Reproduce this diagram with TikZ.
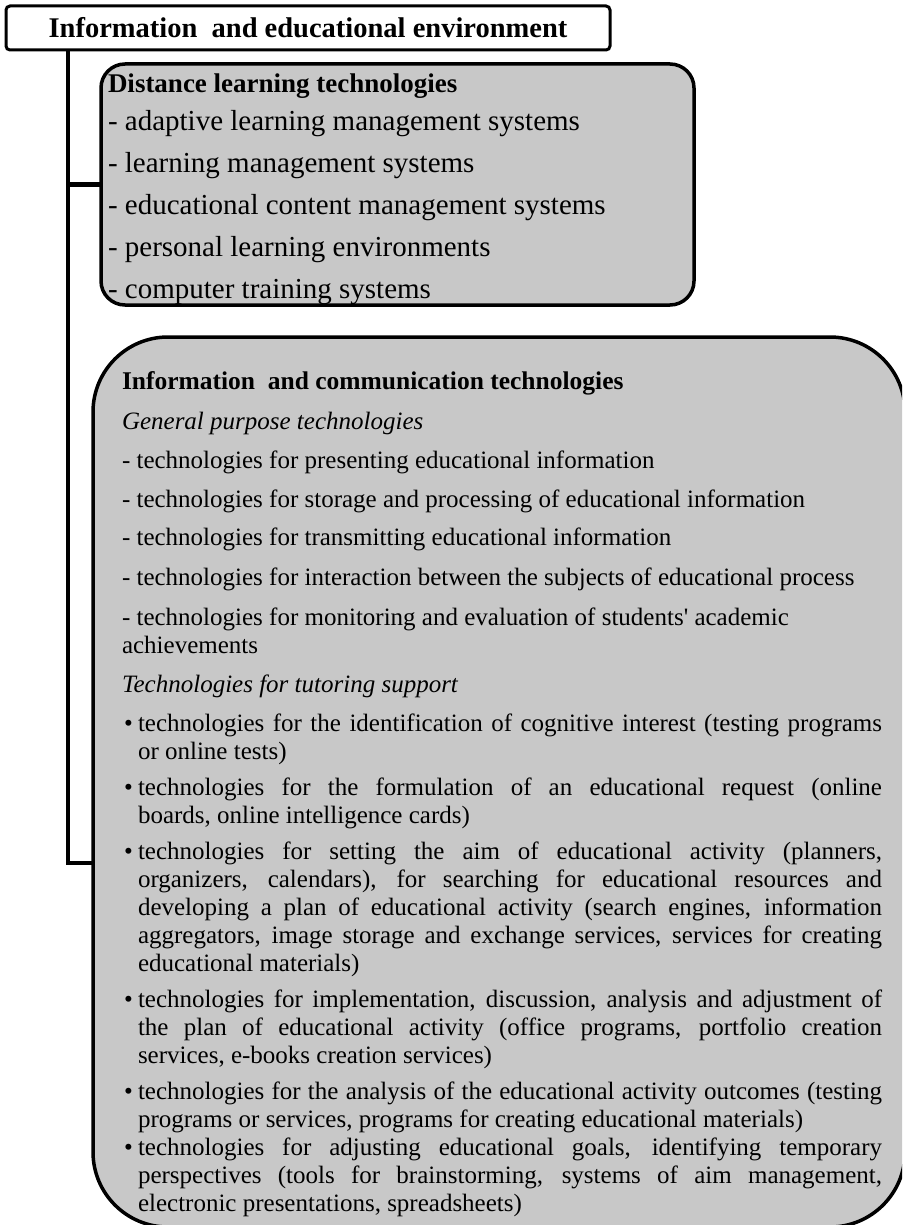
\documentclass[tikz,border=0pt]{standalone}
\usepackage{fontspec}
\setmainfont{Liberation Serif}
\usepackage{graphicx}

% set a full justified line to an exact width: shrink it if too long,
% otherwise spread the interword spaces
\newsavebox\fitbox
\newcommand\fitline[2]{\sbox\fitbox{#2}%
  \ifdim\wd\fitbox>#1\relax\resizebox{#1}{\height}{\usebox\fitbox}%
  \else\makebox[#1][s]{#2}\fi}

\definecolor{boxgray}{RGB}{200,200,200}

\begin{document}
\begin{tikzpicture}[x=1pt,y=-1pt,
  frame/.style={draw=black,line width=3.5pt,fill=boxgray,inner sep=0pt,outer sep=0pt},
  conn/.style={draw=black,line width=4.5pt},
  txt/.style={anchor=base west,inner sep=0pt,outer sep=0pt},
  dlthead/.style={font=\fontsize{27}{30}\selectfont\bfseries},
  hdfont/.style={font=\fontsize{25.5}{30}\selectfont\bfseries},
  dltfont/.style={font=\fontsize{29}{32}\selectfont},
  subfont/.style={font=\fontsize{25}{30}\selectfont\itshape},
  dashfont/.style={font=\fontsize{25}{30}\selectfont},
  bulfont/.style={font=\fontsize{25}{28}\selectfont}]
\useasboundingbox (0,0) rectangle (902,1225);
\clip (0,0) rectangle (902,1225);
\fill[white] (0,0) rectangle (902,1225);

% boxes
\node[frame,fill=white,line width=3pt,rounded corners=4pt,
      minimum width=604pt,minimum height=44pt,
      font=\fontsize{28.5}{30}\selectfont\bfseries] (title) at (308,28)
      {Information \ and educational environment};
\node[frame,rounded corners=24pt,minimum width=593pt,minimum height=241pt]
      (dlt) at (397.5,184.5) {};
\node[frame,rounded corners=75pt,minimum width=812pt,minimum height=890pt]
      (ict) at (499,782) {};

% connectors
\coordinate (tx) at (68,0);
\coordinate (by) at (0,863);
\draw[conn] (title.south -| tx) |- (ict.west |- by);
\draw[conn] (tx |- dlt.west) -- (dlt.west);

% distance learning technologies
\node[txt,dlthead] (d0) at (108,93)  {Distance learning technologies};
\node[txt,dltfont] (d1) at (108,131) {- adaptive learning management systems};
\node[txt,dltfont] (d2) at (108,172) {- learning management systems};
\node[txt,dltfont] (d3) at (108,214) {- educational content management systems};
\node[txt,dltfont] (d4) at (108,256) {- personal learning environments};
\node[txt,dltfont] (d5) at (108,298) {- computer training systems};

% information and communication technologies
\node[txt,hdfont]   (i0) at (122,389) {Information \ and communication technologies};
\node[txt,subfont]  (i1) at (122,429) {General purpose technologies};
\node[txt,dashfont] (i2) at (122,468) {- technologies for presenting educational information};
\node[txt,dashfont] (i3) at (122,507) {- technologies for storage and processing of educational information};
\node[txt,dashfont] (i4) at (122,545) {- technologies for transmitting educational information};
\node[txt,dashfont] (i5) at (122,585) {- technologies for interaction between the subjects of educational process};
\node[txt,dashfont] (i6) at (122,625) {- technologies for monitoring and evaluation of students\textquotesingle\ academic};
\node[txt,dashfont] (i7) at (122,653) {achievements};
\node[txt,subfont]  (i8) at (122,692) {Technologies for tutoring support};

% tutoring support items
\foreach \y in {731,795,859,1007,1099,1155}
  \node[txt,bulfont] at (124,\y) {\textbullet};
\node[txt,bulfont] (b1a) at (138,731)  {\fitline{744pt}{technologies for the identification of cognitive interest (testing programs}};
\node[txt,bulfont] (b1b) at (138,759)  {or online tests)};
\node[txt,bulfont] (b2a) at (138,795)  {\fitline{744pt}{technologies for the formulation of an educational request (online}};
\node[txt,bulfont] (b2b) at (138,823)  {boards, online intelligence cards)};
\node[txt,bulfont] (b3a) at (138,859)  {\fitline{744pt}{technologies for setting the aim of educational activity (planners,}};
\node[txt,bulfont] (b3b) at (138,887)  {\fitline{744pt}{organizers, calendars), for searching for educational resources and}};
\node[txt,bulfont] (b3c) at (138,915)  {\fitline{744pt}{developing a plan of educational activity (search engines, information}};
\node[txt,bulfont] (b3d) at (138,943)  {\fitline{744pt}{aggregators, image storage and exchange services, services for creating}};
\node[txt,bulfont] (b3e) at (138,971)  {educational materials)};
\node[txt,bulfont] (b4a) at (138,1007) {\fitline{744pt}{technologies for implementation, discussion, analysis and adjustment of}};
\node[txt,bulfont] (b4b) at (138,1035) {\fitline{744pt}{the plan of educational activity (office programs, portfolio creation}};
\node[txt,bulfont] (b4c) at (138,1063) {services, e-books creation services)};
\node[txt,bulfont] (b5a) at (138,1099) {\fitline{744pt}{technologies for the analysis of the educational activity outcomes (testing}};
\node[txt,bulfont] (b5b) at (138,1127) {programs or services, programs for creating educational materials)};
\node[txt,bulfont] (b6a) at (138,1155) {\fitline{744pt}{technologies for adjusting educational goals, identifying temporary}};
\node[txt,bulfont] (b6b) at (138,1183) {\fitline{744pt}{perspectives (tools for brainstorming, systems of aim management,}};
\node[txt,bulfont] (b6c) at (138,1211) {electronic presentations, spreadsheets)};
\end{tikzpicture}
\end{document}
